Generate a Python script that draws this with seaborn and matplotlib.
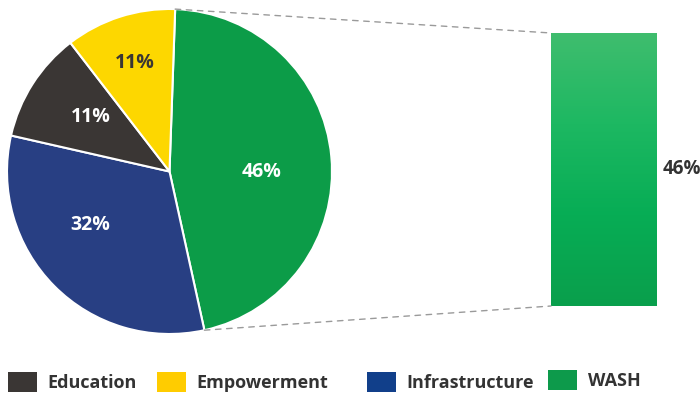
import numpy as np
import matplotlib
matplotlib.use("Agg")
import matplotlib.pyplot as plt
from matplotlib.patches import Patch, ConnectionPatch
from matplotlib.colors import LinearSegmentedColormap
import seaborn as sns

# Funding shares by sector (percent), in drawing order (clockwise from top)
categories = ["WASH", "Infrastructure", "Education", "Empowerment"]
shares = [46, 32, 11, 11]
legend_order = ["Education", "Empowerment", "Infrastructure", "WASH"]
focus = "WASH"

slice_colors = {"WASH": "#0c9c48", "Infrastructure": "#283f83",
                "Education": "#3a3634", "Empowerment": "#fdd700"}
legend_colors = {"WASH": "#0d9a4b", "Infrastructure": "#113f8a",
                 "Education": "#3a3634", "Empowerment": "#ffcc00"}
label_colors = {"WASH": "white", "Infrastructure": "white",
                "Education": "white", "Empowerment": "#3a3634"}
# (angle nudge in degrees, radius as fraction of pie radius) for each label
label_place = {"WASH": (-5.8, 0.565), "Infrastructure": (-10.6, 0.59),
               "Education": (-2.0, 0.59), "Empowerment": (0.0, 0.70)}
# legend entry anchors: (left px, vertical centre px)
legend_anchor = {"Education": (8, 382), "Empowerment": (157, 382),
                 "Infrastructure": (367, 382), "WASH": (548, 380)}

sns.set_theme(style="white")
plt.rcParams["font.family"] = ["Open Sans", "DejaVu Sans"]
TEXT = "#333333"

W, H = 700, 395
fig = plt.figure(figsize=(W / 100, H / 100), dpi=100)
fig.patch.set_facecolor("white")


def px(x0, y0, x1, y1):
    return [x0 / W, 1 - y1 / H, (x1 - x0) / W, (y1 - y0) / H]


# --- pie ---
ax_pie = fig.add_axes(px(7, 9, 332, 334))
wedges, _ = ax_pie.pie(
    shares,
    colors=[slice_colors[c] for c in categories],
    startangle=88,
    counterclock=False,
    wedgeprops=dict(edgecolor="white", linewidth=1.5),
)
ax_pie.set_xlim(-1, 1)
ax_pie.set_ylim(-1, 1)
ax_pie.set_aspect("equal")
ax_pie.axis("off")

for w, cat, val in zip(wedges, categories, shares):
    nudge, r = label_place[cat]
    mid = np.deg2rad((w.theta1 + w.theta2) / 2 + nudge)
    ax_pie.text(r * np.cos(mid), r * np.sin(mid), f"{val}%",
                ha="center", va="center", fontsize=14, fontweight="bold",
                color=label_colors[cat])

# --- breakout bar for the focus sector ---
focus_val = shares[categories.index(focus)]
ax_bar = fig.add_axes(px(551, 33, 657, 306))
sns.barplot(x=[focus], y=[focus_val], ax=ax_bar, width=1.0,
            color=slice_colors[focus], edgecolor="none")
bar = ax_bar.patches[0]
x0, bw, bh = bar.get_x(), bar.get_width(), bar.get_height()
grad = LinearSegmentedColormap.from_list(
    "greens", ["#0a9f4c", "#07ad55", "#1db862", "#3fbd6e"])
img = ax_bar.imshow(np.linspace(0, 1, 256).reshape(-1, 1),
                    extent=[x0, x0 + bw, 0, bh], origin="lower",
                    cmap=grad, aspect="auto", zorder=3)
img.set_clip_path(bar)
ax_bar.set_xlim(x0, x0 + bw)
ax_bar.set_ylim(0, focus_val)
ax_bar.axis("off")
ax_bar.text(x0 + bw + 0.05, bh / 2, f"{focus_val}%", ha="left", va="center",
            fontsize=13.5, fontweight="bold", color=TEXT, clip_on=False)

# dashed connectors from the focus wedge edges to the bar corners
wf = wedges[categories.index(focus)]
for ang, yb in [(wf.theta2, bh), (wf.theta1, 0)]:
    a = np.deg2rad(ang)
    con = ConnectionPatch(xyA=(np.cos(a), np.sin(a)), coordsA=ax_pie.transData,
                          xyB=(x0, yb), coordsB=ax_bar.transData,
                          linestyle=(0, (4, 4)), color="#9a9a9a", lw=1.0)
    fig.add_artist(con)

# --- legend: one entry per sector ---
for cat in legend_order:
    lx, ly = legend_anchor[cat]
    fig.legend([Patch(facecolor=legend_colors[cat], edgecolor="none")], [cat],
               loc="center left", bbox_to_anchor=(lx / W, 1 - ly / H),
               frameon=False, handlelength=1.6, handleheight=1.38,
               handletextpad=0.6, borderpad=0, borderaxespad=0,
               labelcolor=TEXT,
               prop=dict(family="Open Sans", weight="bold", size=13))

fig.savefig("out.png", dpi=100, facecolor="white")
